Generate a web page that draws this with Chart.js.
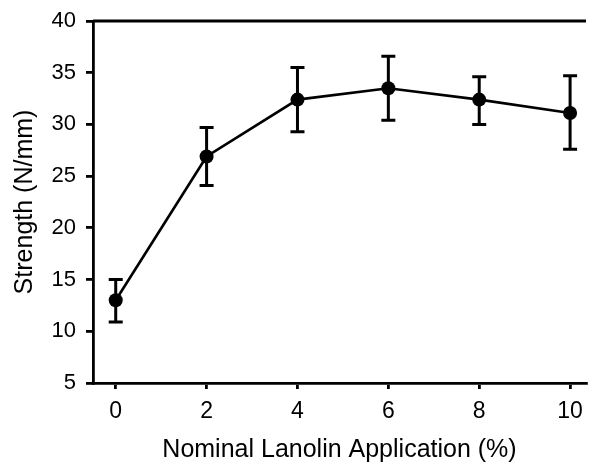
<!DOCTYPE html>
<html>
<head>
<meta charset="utf-8">
<script src="https://cdn.jsdelivr.net/npm/chart.js@4"></script>
<style>
html, body { margin: 0; padding: 0; background: #fff; overflow: hidden; }
#wrap { width: 593px; height: 465px; }
</style>
</head>
<body>
<div id="wrap"><canvas id="strengthChart" width="593" height="465"></canvas></div>
<script>
// values
const lanolinPct = [0, 2, 4, 6, 8, 10];
const strength = [13.0, 26.9, 32.4, 33.5, 32.4, 31.1];
const errLow = [10.9, 24.1, 29.3, 30.4, 30.0, 27.6];
const errHigh = [15.0, 29.7, 35.5, 36.6, 34.6, 34.7];
const xTicks = [0, 2, 4, 6, 8, 10];
const yTicks = [5, 10, 15, 20, 25, 30, 35, 40];

const fontFamily = "'Liberation Sans', Arial, sans-serif";

/* error bars + top frame line */
const errorBars = {
  id: "errorBars",
  beforeDatasetsDraw(chart) {
    const c = chart.ctx;
    const xs = chart.scales.x;
    const ys = chart.scales.y;
    const area = chart.chartArea;
    c.save();
    c.strokeStyle = "#000";
    c.lineWidth = 2.8;
    c.beginPath();
    c.moveTo(area.left, area.top);
    c.lineTo(area.right, area.top);
    c.stroke();
    c.lineWidth = 3;
    for (let i = 0; i < lanolinPct.length; i++) {
      const px = xs.getPixelForValue(lanolinPct[i]);
      const lo = ys.getPixelForValue(errLow[i]);
      const hi = ys.getPixelForValue(errHigh[i]);
      c.beginPath();
      c.moveTo(px, lo); c.lineTo(px, hi);
      c.moveTo(px - 7, lo); c.lineTo(px + 7, lo);
      c.moveTo(px - 7, hi); c.lineTo(px + 7, hi);
      c.stroke();
    }
    c.restore();
  }
};

new Chart(document.getElementById("strengthChart"), {
  type: "line",
  data: {
    datasets: [{
      data: lanolinPct.map((x, i) => ({ x: x, y: strength[i] })),
      borderColor: "#000",
      backgroundColor: "#000",
      borderWidth: 2.6,
      pointRadius: 7,
      pointBorderWidth: 0,
      tension: 0
    }]
  },
  options: {
    responsive: false,
    animation: false,
    layout: { padding: { top: 20, right: 0, left: 0, bottom: 0 } },
    plugins: { legend: { display: false }, tooltip: { enabled: false } },
    scales: {
      x: {
        type: "linear",
        min: -0.5,
        max: 10.35,
        afterBuildTicks: s => { s.ticks = xTicks.map(v => ({ value: v })); },
        afterFit: s => { s.height = 82; },
        grid: { drawOnChartArea: false, color: "#000", lineWidth: 2.8, tickLength: 6 },
        border: { color: "#000", width: 2.8 },
        ticks: { color: "#000", font: { family: fontFamily, size: 23 }, padding: 9, maxRotation: 0 },
        title: {
          display: true,
          text: "Nominal Lanolin Application (%)",
          color: "#000",
          font: { family: fontFamily, size: 25 },
          padding: { top: 0, bottom: 0 }
        }
      },
      y: {
        min: 5,
        max: 40,
        afterBuildTicks: s => { s.ticks = yTicks.map(v => ({ value: v })); },
        afterFit: s => { s.width = 93; },
        grid: { drawOnChartArea: false, color: "#000", lineWidth: 2.8, tickLength: 7 },
        border: { color: "#000", width: 2.8 },
        ticks: { color: "#000", font: { family: fontFamily, size: 22, lineHeight: 1 }, padding: 10 },
        title: {
          display: true,
          text: "Strength (N/mm)",
          color: "#000",
          font: { family: fontFamily, size: 25 },
          padding: { top: 10, bottom: 0 }
        }
      }
    }
  },
  plugins: [errorBars]
});
</script>
</body>
</html>
